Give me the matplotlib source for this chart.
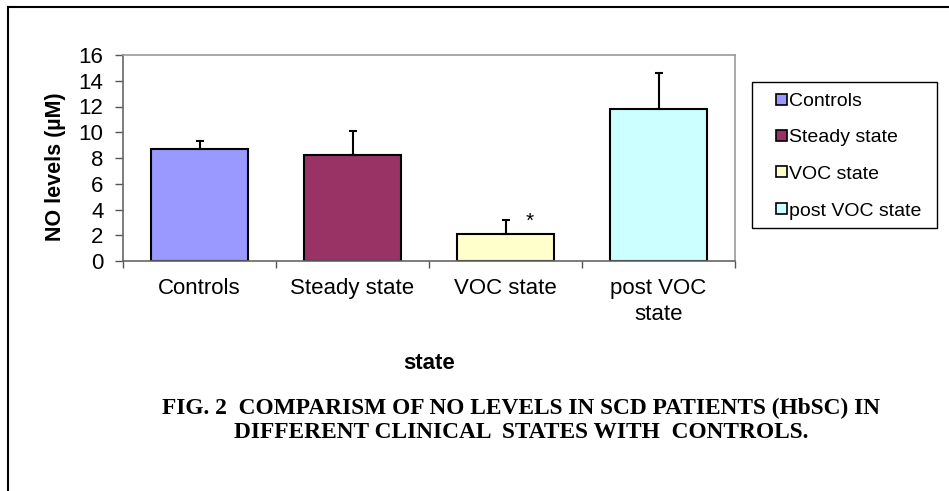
import matplotlib
matplotlib.use("Agg")
import matplotlib.pyplot as plt
from matplotlib.lines import Line2D
from matplotlib.patches import Rectangle
import numpy as np

categories = ["Controls", "Steady state", "VOC state", "post VOC\nstate"]
legend_labels = ["Controls", "Steady state", "VOC state", "post VOC state"]
values = [8.7, 8.2, 2.1, 11.8]
errors = [0.65, 1.9, 1.1, 2.8]
colors = ["#9999FF", "#993366", "#FFFFCC", "#CCFFFF"]
yticks = [0, 2, 4, 6, 8, 10, 12, 14, 16]

W, H = 949, 491
plt.rcParams['font.family'] = ['Liberation Sans', 'DejaVu Sans']
fig = plt.figure(figsize=(W / 100, H / 100), dpi=100)


def fx(px):
    return px / W


def fy(py):
    return 1 - py / H


# outer frame lines (top and left)
fig.add_artist(Line2D([fx(8), 1.0], [fy(7), fy(7)], color="black", lw=1.5, transform=fig.transFigure))
fig.add_artist(Line2D([fx(8), fx(8)], [0, fy(7)], color="black", lw=1.5, transform=fig.transFigure))

ax = fig.add_axes([fx(123), fy(261), 612 / W, 206 / H])
x = np.arange(len(categories))
ax.bar(x, values, width=0.635, color=colors, edgecolor="black", linewidth=1.5, zorder=2)
ax.errorbar(x, values, yerr=[[0] * len(values), errors], fmt="none", ecolor="black",
            elinewidth=1.5, capsize=3, capthick=1.5, zorder=3)
ax.text(x[2] + 0.16, values[2] + errors[2] - 0.1, "*", ha="center", va="center", fontsize=15)

ax.set_xlim(-0.5, len(categories) - 0.5)
ax.set_ylim(0, 16)
ax.set_yticks(yticks)
ax.set_yticklabels([str(v) for v in yticks], fontsize=16)
ax.set_xticks(x)
ax.set_xticklabels(categories, fontsize=16, linespacing=1.35)
ax.set_xticks(np.arange(-0.5, len(categories), 1.0), minor=True)
ax.tick_params(axis="x", which="major", length=0, pad=12)
ax.tick_params(axis="x", which="minor", length=5, width=1, color="#555555", direction="out")
ax.tick_params(axis="y", length=6, width=1, color="#555555", direction="out", pad=8)
for s in ["top", "right"]:
    ax.spines[s].set_color("#999999")
    ax.spines[s].set_linewidth(1.2)
for s in ["left", "bottom"]:
    ax.spines[s].set_color("#666666")
    ax.spines[s].set_linewidth(1.2)

ax.set_ylabel("NO levels (µM)", fontsize=15.5, fontweight="bold", va="center")
ax.yaxis.set_label_coords((56 - 123) / 612, (261 - 167) / 206)
ax.set_xlabel("state", fontsize=16, fontweight="bold", labelpad=20)

# legend drawn as a box with keys
fig.add_artist(Rectangle((fx(752), fy(228)), (937 - 752) / W, (228 - 82) / H,
                         transform=fig.transFigure, facecolor="white", edgecolor="black", lw=1.0))
entry_y = [100, 136, 172, 209]
for lab, col, yy in zip(legend_labels, colors, entry_y):
    fig.add_artist(Rectangle((fx(776), fy(yy + 5)), 11 / W, 11 / H, transform=fig.transFigure,
                             facecolor=col, edgecolor="black", lw=1.2))
    fig.text(fx(789), fy(yy + 2), lab, ha="left", va="center", fontsize=14)

fig.text(fx(521), fy(408), "FIG. 2  COMPARISM OF NO LEVELS IN SCD PATIENTS (HbSC) IN",
         ha="center", va="center", fontsize=16.8, fontweight="bold", family="Liberation Serif")
fig.text(fx(521), fy(433), "DIFFERENT CLINICAL  STATES WITH  CONTROLS.",
         ha="center", va="center", fontsize=16.8, fontweight="bold", family="Liberation Serif")

fig.savefig("out.png", dpi=100)
